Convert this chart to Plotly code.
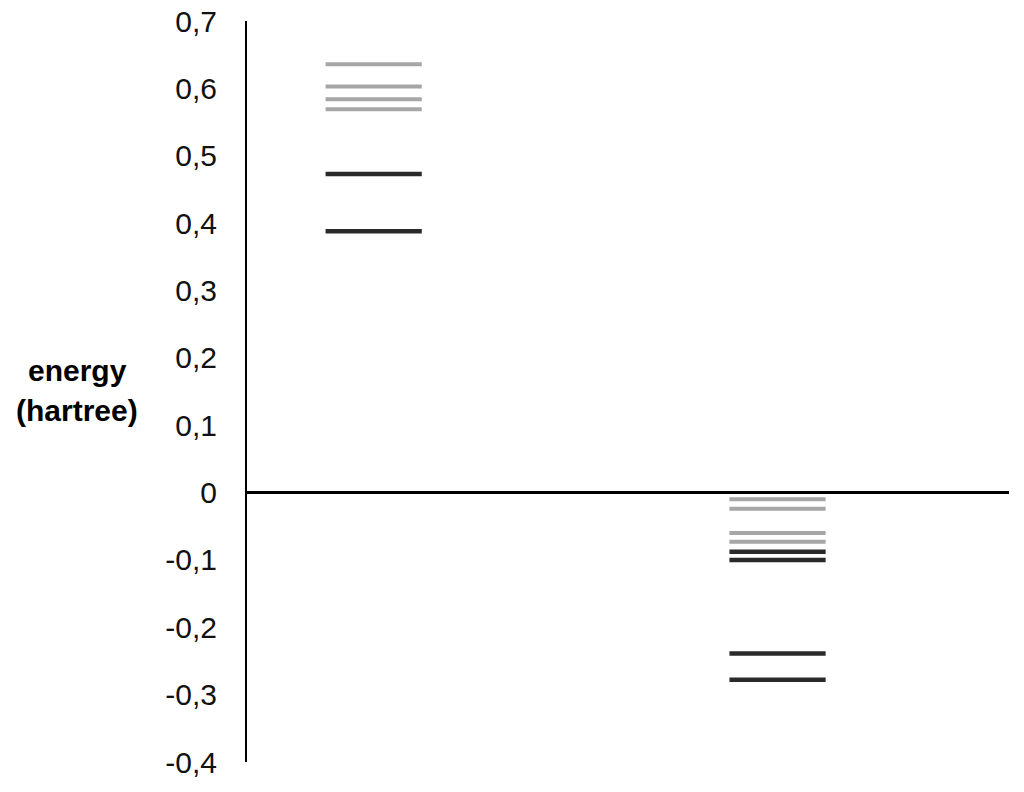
import plotly.graph_objects as go

# Energy levels (hartree)
left_gray = [0.636, 0.603, 0.584, 0.569]
left_dark = [0.473, 0.388]
right_gray = [-0.010, -0.024, -0.060, -0.073]
right_dark = [-0.088, -0.100]
right_dark_low = [-0.239, -0.278]

tick_vals = [0.7, 0.6, 0.5, 0.4, 0.3, 0.2, 0.1, 0.0, -0.1, -0.2, -0.3, -0.4]
tick_text = ["0,7", "0,6", "0,5", "0,4", "0,3", "0,2", "0,1", "0", "-0,1", "-0,2", "-0,3", "-0,4"]

GRAY = "#a6a6a6"
DARK = "#2a2a2a"
LEFT_C, RIGHT_C, HALF = 1.33, 5.57, 0.505

fig = go.Figure()


def add_levels(center, energies, color, width):
    for e in energies:
        fig.add_trace(go.Scatter(
            x=[center - HALF, center + HALF], y=[e, e], mode="lines",
            line=dict(color=color, width=width), showlegend=False, hoverinfo="skip"))


add_levels(LEFT_C, left_gray, GRAY, 4)
add_levels(LEFT_C, left_dark, DARK, 4.5)
add_levels(RIGHT_C, right_gray, GRAY, 4)
add_levels(RIGHT_C, right_dark, DARK, 4.5)
add_levels(RIGHT_C, right_dark_low, DARK, 4.5)

fig.update_layout(
    template="none",
    width=1024, height=792,
    margin=dict(l=247, r=15, t=21, b=30, autoexpand=False),
    paper_bgcolor="white", plot_bgcolor="white",
    font=dict(family="Liberation Sans, Arial, sans-serif", color="black"),
    xaxis=dict(range=[0, 8], showgrid=False, zeroline=False, showticklabels=False,
               showline=False, automargin=False),
    yaxis=dict(range=[-0.4, 0.7002], tickvals=tick_vals, ticktext=tick_text,
               showgrid=False, zeroline=True, zerolinecolor="black", zerolinewidth=3,
               showline=True, linecolor="black", linewidth=2, ticks="",
               automargin=False, ticklabeloverflow="allow",
               ticklabelstandoff=22, tickfont=dict(size=30, color="#111")),
    annotations=[
        dict(text="<b>energy</b>", xref="paper", yref="y", x=-0.223, y=0.182,
             showarrow=False, xanchor="center", yanchor="middle",
             font=dict(size=30, color="black")),
        dict(text="<b>(hartree)</b>", xref="paper", yref="y", x=-0.223, y=0.122,
             showarrow=False, xanchor="center", yanchor="middle",
             font=dict(size=30, color="black")),
    ],
)

fig.write_html(
    "out.html",
    config={"displayModeBar": False},
    post_script="document.body.style.margin='0';document.body.style.overflow='hidden';",
)
